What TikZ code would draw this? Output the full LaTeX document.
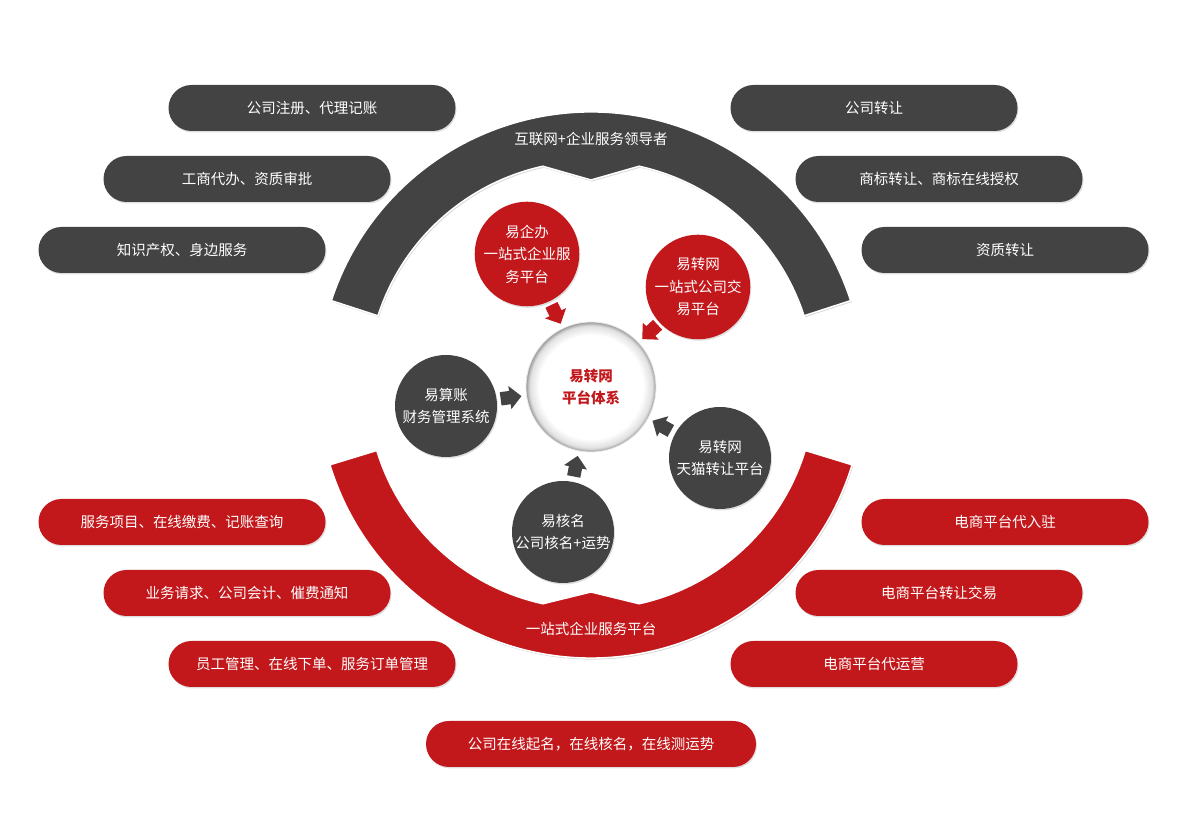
\documentclass[tikz,border=0pt]{standalone}
\usepackage{fontspec}
\setmainfont{Noto Sans CJK SC}
\usetikzlibrary{calc,shadows,shapes.arrows}
\definecolor{ink}{HTML}{434343}
\definecolor{brand}{HTML}{C2171B}
\pgfdeclareradialshading{hubring}{\pgfpointorigin}{color(0bp)=(white); color(20bp)=(white); color(23.5bp)=(black!12); color(25bp)=(black!40); color(50bp)=(black!40)}

\begin{document}
\begin{tikzpicture}[x=1pt, y=1pt, font=\fontsize{14.5}{22.5}\selectfont]
\tikzstyle{pill}=[rectangle, rounded corners=23pt, minimum width=287pt, minimum height=46pt, text=white, drop shadow={opacity=0.25, shadow xshift=1pt, shadow yshift=-1.5pt}]
\tikzstyle{sat}=[circle, minimum size=102pt, inner sep=0pt, align=center, text=white, drop shadow={opacity=0.25, shadow xshift=1pt, shadow yshift=-1.5pt}]
\tikzstyle{band}=[draw=white, line width=1.5pt, drop shadow={opacity=0.3, shadow xshift=1pt, shadow yshift=-1.5pt}]
\tikzstyle{blk}=[single arrow, minimum height=21pt, minimum width=0pt, inner sep=6.5pt, single arrow head extend=5pt]
\useasboundingbox (0,0) rectangle (1187,840);
% the two half rings
\path[band, fill=ink, shift={(591,455)}] (18:273pt) arc[start angle=18, end angle=162, radius=273pt]
  -- (162:224pt) arc[start angle=162, end angle=102.4, radius=224pt] -- (90:205pt)
  -- (77.6:224pt) arc[start angle=77.6, end angle=18, radius=224pt] -- cycle;
\path[band, fill=brand, shift={(591,455)}] (197:273pt) arc[start angle=197, end angle=343, radius=273pt]
  -- (343:224pt) arc[start angle=343, end angle=282.4, radius=224pt] -- (270:207pt)
  -- (257.6:224pt) arc[start angle=257.6, end angle=197, radius=224pt] -- cycle;
\node[text=white] (toplbl) at (591,701) {互联网+企业服务领导者};
\node[text=white] (botlbl) at (591,211) {一站式企业服务平台};
% hub and satellites
\node[circle, minimum size=130pt, shading=hubring, draw=black!8, line width=0.8pt, align=center, text=brand] (hub) at (591,453) {\textbf{易转网}\\\textbf{平台体系}};
\node[sat, fill=brand] (yqb) at (527,586) {易企办\\一站式企业服\\务平台};
\node[sat, fill=brand] (yzw) at (698,553) {易转网\\一站式公司交\\易平台};
\node[sat, fill=ink] (ysz) at (446,434) {易算账\\财务管理系统};
\node[sat, fill=ink] (tm) at (720,382) {易转网\\天猫转让平台};
\node[sat, fill=ink] (yhm) at (563,308) {易核名\\公司核名+运势};
\foreach \s/\c/\a in {yqb/brand/-64, yzw/brand/223, ysz/ink/7.5, tm/ink/151, yhm/ink/79}
  \node[blk, fill=\c, rotate=\a] (\s-arr) at ($(hub)!84pt!(\s)$) {};
% service pills
\node[pill, fill=ink] (reg) at (312,732) {公司注册、代理记账};
\node[pill, fill=ink] (biz) at (247,661) {工商代办、资质审批};
\node[pill, fill=ink] (ip) at (182,590) {知识产权、身边服务};
\node[pill, fill=ink] (xfer) at (874,732) {公司转让};
\node[pill, fill=ink] (tmk) at (939,661) {商标转让、商标在线授权};
\node[pill, fill=ink] (qual) at (1005,590) {资质转让};
\node[pill, fill=brand] (pay) at (182,318) {服务项目、在线缴费、记账查询};
\node[pill, fill=brand] (acct) at (247,247) {业务请求、公司会计、催费通知};
\node[pill, fill=brand] (staff) at (312,176) {员工管理、在线下单、服务订单管理};
\node[pill, fill=brand] (shop) at (1005,318) {电商平台代入驻};
\node[pill, fill=brand] (trade) at (939,247) {电商平台转让交易};
\node[pill, fill=brand] (ops) at (874,176) {电商平台代运营};
\node[pill, fill=brand, minimum width=330pt] (name) at (591,96) {公司在线起名，在线核名，在线测运势};
\end{tikzpicture}
\end{document}
